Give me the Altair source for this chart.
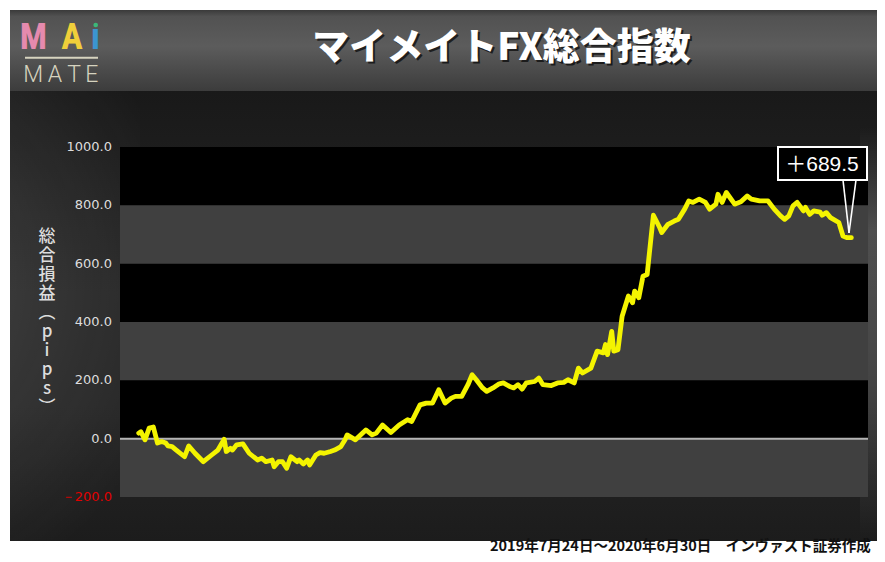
import altair as alt
import pandas as pd

# ---- data ----
days = [1, 2, 4, 6, 8, 10, 12, 14, 15, 17, 19, 23, 25, 28, 32, 36, 39, 42, 43, 45,
        46, 48, 51, 54, 58, 60, 62, 65, 66, 68, 70, 72, 74, 77, 78, 80, 82, 83, 86, 88,
        90, 93, 95, 98, 100,
        101, 105, 110, 113, 115, 118, 122, 126, 130, 132, 136, 139, 142, 145, 148, 151, 153, 156, 159, 161,
        163, 166, 168, 171, 174, 176, 179, 181, 183, 185, 187, 191, 193, 195, 199, 202, 205, 207, 210, 212,
        214, 218,
        221, 224, 225, 226, 228, 229, 231, 233, 236, 238, 239, 241, 243, 245, 248, 251, 252, 255, 258, 260,
        263, 265, 267, 270, 273, 275, 278, 279, 281, 283, 287, 290, 293, 295, 299, 303, 306, 309, 311, 313,
        315, 317, 320, 321, 323, 325, 328, 329, 331, 333, 337, 339, 341, 343]
pips = [19, 24, -4, 36, 40, -15, -10, -15, -25, -27, -39, -62, -25, -50, -79, -56, -39, -2, -44, -33,
        -39, -21, -18, -50, -73, -67, -79, -73, -96, -79, -79, -101, -62, -79, -73, -87, -73, -90, -56, -48,
        -50, -44, -39, -27, -4,
        13, -4, 30, 13, 19, 47, 21, 47, 65, 59, 116, 122, 122, 168, 122, 139, 145, 145, 185, 219,
        202, 174, 162, 174, 188, 191, 179, 174, 185, 170, 191, 196, 208, 185, 182, 191, 193, 202, 191, 242,
        225, 242,
        300, 294, 323, 288, 368, 300, 305, 420, 489, 466, 506, 483, 557, 563, 766, 724, 707, 735, 746, 752,
        787, 815, 810, 821, 810, 787, 804, 838, 810, 844, 804, 812, 832, 821, 815, 815, 787, 764, 752, 764,
        798, 810, 781, 793, 769, 781, 777, 766, 775, 758, 741, 695, 689, 689.5]

tick_values = [1000, 800, 600, 400, 200, 0, -200]
tick_labels = ["1000.0", "800.0", "600.0", "400.0", "200.0", "0.0", "－200.0"]
black_lo = [800, 400, 0]
black_hi = [1000, 600, 200]
final_label = "＋689.5"
title_text = "マイメイトFX総合指数"
y_title = ["総", "合", "損", "益", "︵", "p", "i", "p", "s", "︶"]
footer_text = "2019年7月24日～2020年6月30日　インヴァスト証券作成"

W, H = 748, 350
JP = "Noto Sans CJK JP"

xs = alt.Scale(domain=[-8, 351], nice=False, zero=False)
ys = alt.Scale(domain=[-200, 1000], nice=False, zero=False)

series = pd.DataFrame({"day": days, "pips": pips})
ticks = pd.DataFrame({"v": tick_values, "lab": tick_labels})
bands = pd.DataFrame({"lo": black_lo, "hi": black_hi})
full = pd.DataFrame({"lo": [-200], "hi": [1000]})
zero = pd.DataFrame({"v": [0]})
one = pd.DataFrame({"k": [0]})


def grad(stops, vertical=True):
    return alt.LinearGradient(
        gradient="linear",
        stops=[alt.GradientStop(offset=o, color=c) for o, c in stops],
        x1=0, y1=0, x2=0 if vertical else 1, y2=1 if vertical else 0,
    )


def box(x, x2, y, y2, **kw):
    return alt.Chart(one).mark_rect(**kw).encode(
        x=alt.value(x), x2=alt.value(x2), y=alt.value(y), y2=alt.value(y2))


def label(txt, x, y, **kw):
    return alt.Chart(one).mark_text(**kw).encode(
        x=alt.value(x), y=alt.value(y), text=alt.value(txt))


# ---- background panels ----
panel_body = box(-110, 770, -56, 394, fill=grad([(0, "#191919"), (0.45, "#262626"), (0.7, "#262626"), (1, "#1c1c1c")]))
left_glow = box(-110, 20, -60, 400, fill=alt.RadialGradient(
    gradient="radial", x1=0, y1=0.42, r1=0, x2=0, y2=0.42, r2=0.75,
    stops=[alt.GradientStop(offset=0, color="rgba(255,255,255,0.16)"),
           alt.GradientStop(offset=1, color="rgba(255,255,255,0)")]))
right_glow = box(740, 770, -20, 394, fill=grad([(0, "rgba(255,255,255,0)"), (0.25, "rgba(255,255,255,0.2)"),
                                                 (0.6, "rgba(255,255,255,0.14)"), (1, "rgba(255,255,255,0)")]))
header = box(-110, 770, -137, -56, fill=grad([(0, "#3a3a3a"), (0.08, "#525252"), (0.45, "#5c5c5c"), (1, "#3c3c3c")]))

# ---- plot bands ----
gray_bg = alt.Chart(full).mark_rect(color="#404040").encode(
    x=alt.value(0), x2=alt.value(W), y=alt.Y("lo:Q", scale=ys, axis=None), y2="hi:Q")
black_bands = alt.Chart(bands).mark_rect(color="#000000").encode(
    x=alt.value(0), x2=alt.value(W), y=alt.Y("lo:Q", scale=ys, axis=None), y2="hi:Q")
zero_rule = alt.Chart(zero).mark_rule(color="#b4b4b4", strokeWidth=2).encode(
    x=alt.value(0), x2=alt.value(W), y=alt.Y("v:Q", scale=ys, axis=None))

tick_text = alt.Chart(ticks).mark_text(align="right", baseline="middle", font="DejaVu Sans", fontSize=13).encode(
    x=alt.value(-8), y=alt.Y("v:Q", scale=ys, axis=None), text="lab:N",
    color=alt.condition("datum.v < 0", alt.value("#e00000"), alt.value("#dddddd")))

line = alt.Chart(series).mark_line(color="#f4f400", strokeWidth=4.8, strokeJoin="round", strokeCap="round").encode(
    x=alt.X("day:Q", scale=xs, axis=None), y=alt.Y("pips:Q", scale=ys, axis=None))

# ---- annotation ----
ann_box = box(658, 747, 0, 33, fill="#000000", stroke="#ffffff", strokeWidth=2)
ann_text = label(final_label, 702, 17.5, align="center", baseline="middle", color="#ffffff",
                 font="Liberation Sans, " + JP, fontSize=21)
ptr_l = alt.Chart(one).mark_rule(color="#ffffff", strokeWidth=1.6).encode(
    x=alt.value(723), y=alt.value(33), x2=alt.value(729), y2=alt.value(86))
ptr_r = alt.Chart(one).mark_rule(color="#ffffff", strokeWidth=1.6).encode(
    x=alt.value(736), y=alt.value(33), x2=alt.value(729), y2=alt.value(86))

# ---- texts ----
title_shadow = label(title_text, 383.5, -96, align="center", baseline="middle", color="#000000", opacity=0.65,
                     font=JP, fontSize=37, fontWeight=900)
title = label(title_text, 381.5, -98, align="center", baseline="middle", color="#ffffff",
              font=JP, fontSize=37, fontWeight=900)
ytitle = alt.Chart(one).mark_text(align="center", baseline="middle", color="#dddddd", font=JP,
                                  fontSize=17, fontWeight=500, lineHeight=19).encode(
    x=alt.value(-73), y=alt.value(90), text=alt.value(y_title))
footer = label(footer_text, 370, 399.5, align="left", baseline="middle", color="#111111",
               font=JP, fontSize=14.5, fontWeight="bold")

logo_font = "Liberation Sans Narrow, Roboto Condensed, Roboto, sans-serif"
logo = []
for ch, cx, col in [("M", -86.7, "#e58aae"), ("A", -48, "#f0cf3a"), ("ı", -24.5, "#3b95d0")]:
    logo.append(label(ch, cx, -97.7, align="center", baseline="alphabetic", color=col,
                      font=logo_font, fontSize=36, fontWeight="bold"))
logo_dot = alt.Chart(one).mark_point(filled=True, shape="circle", size=22, color="#3cb878", opacity=1).encode(
    x=alt.value(-24.3), y=alt.value(-122))
logo_line = alt.Chart(one).mark_rule(color="#d6d3bf", strokeWidth=2).encode(
    x=alt.value(-95), x2=alt.value(-22), y=alt.value(-89.3))
for ch, cx in [("M", -86.7), ("A", -65), ("T", -45.8), ("E", -28.3)]:
    logo.append(label(ch, cx, -65.3, align="center", baseline="alphabetic", color="#d6d3bf",
                      font="Roboto, sans-serif", fontSize=23, fontWeight=300))

chart = alt.layer(
    panel_body, left_glow, right_glow, header,
    gray_bg, black_bands, zero_rule, tick_text, line,
    ann_box, ptr_l, ptr_r, ann_text,
    title_shadow, title, ytitle, footer,
    *logo, logo_dot, logo_line,
).properties(
    width=W, height=H,
    padding={"left": 112, "top": 139, "right": 9, "bottom": 57},
    autosize=alt.AutoSizeParams(type="none"),
    background="#ffffff",
).configure_view(stroke=None)

chart.save("out.html", embed_options={"renderer": "svg", "actions": False})
